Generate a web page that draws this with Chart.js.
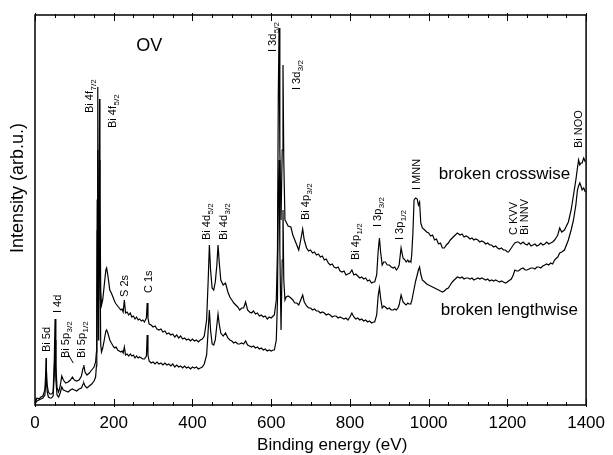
<!DOCTYPE html>
<html>
<head>
<meta charset="utf-8">
<script src="https://cdn.jsdelivr.net/npm/chart.js@4.4.1/dist/chart.umd.min.js"></script>
<style>
html,body{margin:0;padding:0;background:#fff}
#wrap{width:613px;height:455px}
</style>
</head>
<body>
<div id="wrap"><canvas id="chart" width="613" height="455"></canvas></div>
<script>
// binding energy (eV), shared by both spectra
const energy = [
	0,5,10,15,20,25,27,28,29,31,34,38,42,46,49,51,53,56,60,64,68,72,78,84,90,95,100,106,112,118,122,124,127,132,138,144,150,154,156,157,158,159,160,161,162,164,165,167,169,172,176,180,182,
	185,190,194,197,200,203,206,210,214,218,221,224,227,230,234,238,242,246,250,254,258,262,266,270,274,278,283,285,287,
	290,295,300,305,310,315,320,325,330,335,340,345,350,355,360,365,370,375,380,385,390,395,400,405,410,415,420,425,430,
	436,440,443,446,450,454,458,462,465,468,472,478,484,
	490,495,500,505,510,515,520,525,530,535,540,545,550,555,560,565,570,575,580,585,590,595,600,605,608,
	613,616,618,620,622,625,628,630,632,635,638,643,650,655,660,665,670,675,680,684,
	690,695,700,705,710,715,720,725,730,735,740,745,750,755,760,765,770,775,780,785,790,795,800,805,810,815,820,825,830,835,840,845,850,855,860,863,
	868,872,875,878,882,886,890,895,900,905,910,914,918,922,925,930,935,940,943,947,950,953,955,957,960,963,967,971,974,977,980,
	984,990,995,1000,1005,1010,1015,1020,1025,1030,1035,1040,1045,1050,1055,1060,1065,1073,1080,1085,1090,1095,1100,1105,1110,1115,1120,1125,1130,1135,1140,1145,1150,1155,1160,1165,1170,1175,1180,1185,1190,1195,1200,1203,1210,1215,1219,1224,1228,1234,1240,1245,1250,1255,1260,1265,1270,1275,1280,1285,1290,1295,1300,1305,1310,1315,1320,1325,1328,
	1333,1338,1345,1355,1362,1368,1374,1378,1381,1384,1387,1390,1394,1398
];
// intensity (arb.u.), upper spectrum
const crosswise = [
	2,7,6,8,9,15,30,47,35,20,13,11,11,13,45,86,40,17,13,19,29,25,22,23,25,28,25,24,25,29,37,40,33,30,32,35,38,43,53,85,205,318,205,105,155,306,205,115,100,105,120,135,137,
	130,115,112,109,106,103,101,99,97,95,96,93,105,92,93,90,92,88,89,86,88,85,86,84,85,83,87,102,87,
	81,80,78,79,76,75,76,73,74,71,72,70,71,68,70,67,69,66,67,65,66,64,66,64,65,63,65,66,69,
	85,125,160,135,117,115,123,140,160,143,125,120,122,
	113,108,105,102,100,98,95,97,97,103,95,93,92,94,91,92,89,90,88,89,86,88,87,89,90,
	105,155,305,377,255,185,255,340,245,185,183,179,178,170,165,160,155,165,176,165,
	157,154,155,152,153,150,151,148,149,145,146,142,140,141,138,137,138,134,133,134,130,131,132,135,130,131,129,127,128,126,127,124,125,122,123,123,
	130,155,167,153,140,143,143,140,140,138,137,138,135,137,140,157,147,145,143,145,143,144,143,150,172,205,207,206,200,203,182,
	177,175,173,172,169,170,165,166,161,162,157,157,160,162,165,167,169,172,170,171,168,169,168,166,167,165,166,165,163,164,163,161,162,160,160,158,159,157,156,157,155,155,153,153,157,160,162,163,163,161,163,161,160,162,159,160,161,159,160,162,160,161,163,161,162,163,165,168,170,
	177,173,175,183,195,210,225,237,245,240,242,242,247,243
];
// intensity (arb.u.), lower spectrum
const lengthwise = [
	1,4,5,6,7,10,20,33,25,13,8,7,7,9,30,65,25,10,8,12,18,15,14,13,15,16,15,14,16,17,21,22,19,17,19,21,24,28,39,65,175,255,145,65,105,245,145,60,53,57,65,74,75,
	72,65,62,60,58,57,58,55,54,53,54,52,58,50,51,49,51,49,50,47,49,47,48,47,46,46,49,70,50,
	44,42,43,41,43,41,42,40,42,40,41,39,41,38,40,38,39,37,39,37,38,36,38,37,38,36,37,38,41,
	50,75,95,75,61,60,65,80,91,81,72,69,72,
	67,65,64,62,63,61,61,62,61,64,60,59,58,59,57,58,56,57,55,56,54,55,54,55,55,
	65,105,205,245,155,75,145,195,125,105,108,109,107,105,102,102,100,105,110,103,
	99,97,97,95,96,94,94,92,93,92,90,91,90,88,89,89,87,88,87,86,87,85,88,92,88,86,87,85,86,84,85,83,84,82,83,83,
	90,110,117,107,97,99,98,96,97,95,95,96,95,97,100,110,103,101,100,102,101,101,102,104,110,116,124,130,135,138,131,
	125,123,121,120,119,118,117,116,115,114,113,114,116,117,120,123,125,128,127,128,126,127,127,126,127,125,126,127,126,127,126,125,126,124,125,124,125,124,123,124,123,122,123,124,126,130,135,134,134,136,137,135,135,136,137,137,136,138,138,137,139,140,141,140,142,141,145,147,148,
	152,153,155,165,175,185,200,215,219,222,219,215,217,213
];

const xTicks = [0,200,400,600,800,1000,1200,1400];

// peak labels: name, subscript, energy at text baseline, intensity at text start
const peakNames = ['Bi 5d','I 4d','Bi 5p','Bi 5p','S 2s','C 1s','Bi 4f','Bi 4f','Bi 4d','Bi 4d','I 3d','I 3d','Bi 4p','Bi 4p','I 3p','I 3p','I MNN','C KVV','Bi NNV','Bi NOO'];
const peakSubs = ['','','3/2','1/2','','','7/2','5/2','5/2','3/2','5/2','3/2','3/2','1/2','3/2','1/2','','','',''];
const peakEnergy = [38,67,87,128,236,298,147,207,444,487,612,672,697,822,878,935,978,1224,1253,1389];
const peakLevel = [53,92,47,47,108,112,292,277,165,165,353,315,185,145,178,165,215,170,170,257];

const curveNames = ['OV','broken crosswise','broken lengthwise'];
const curveNameEnergy = [257,1026,1031];
const curveNameLevel = [354,226,90];

const FONT = "'Liberation Sans', Arial, Helvetica, sans-serif";

const decor = {
	id: 'decor',
	afterDatasetsDraw(chart) {
		const ctx = chart.ctx;
		const a = chart.chartArea;
		const xs = chart.scales.x, ys = chart.scales.y;
		ctx.save();
		ctx.strokeStyle = '#000';
		ctx.fillStyle = '#000';
		// frame
		ctx.lineWidth = 1.5;
		ctx.strokeRect(a.left, a.top, a.right - a.left, a.bottom - a.top);
		// inward ticks, bottom and top
		ctx.lineWidth = 1;
		for (let v = 0; v <= 1400; v += 50) {
			const px = Math.round(xs.getPixelForValue(v)) + 0.5;
			const major = v % 200 === 0;
			const inn = major ? 6 : 3, out = major ? 2 : 1;
			ctx.beginPath();
			ctx.moveTo(px, a.bottom + out); ctx.lineTo(px, a.bottom - inn);
			ctx.moveTo(px, a.top - out); ctx.lineTo(px, a.top + inn);
			ctx.stroke();
		}
		// leader line of Bi 5p3/2
		ctx.beginPath();
		ctx.moveTo(xs.getPixelForValue(84), ys.getPixelForValue(51));
		ctx.lineTo(xs.getPixelForValue(97), ys.getPixelForValue(42));
		ctx.stroke();
		// peak labels, rotated
		for (let i = 0; i < peakNames.length; i++) {
			ctx.save();
			ctx.translate(xs.getPixelForValue(peakEnergy[i]), ys.getPixelForValue(peakLevel[i]));
			ctx.rotate(-Math.PI / 2);
			ctx.textAlign = 'left';
			ctx.textBaseline = 'alphabetic';
			ctx.font = '11px ' + FONT;
			ctx.fillText(peakNames[i], 0, 0);
			if (peakSubs[i]) {
				const w = ctx.measureText(peakNames[i]).width;
				ctx.font = '8px ' + FONT;
				ctx.fillText(peakSubs[i], w + 0.5, 3);
			}
			ctx.restore();
		}
		// curve names
		ctx.textAlign = 'left';
		ctx.textBaseline = 'alphabetic';
		for (let i = 0; i < curveNames.length; i++) {
			ctx.font = (i === 0 ? '18px ' : '17px ') + FONT;
			ctx.fillText(curveNames[i], xs.getPixelForValue(curveNameEnergy[i]), ys.getPixelForValue(curveNameLevel[i]));
		}
		// axis titles
		ctx.font = '17px ' + FONT;
		ctx.textAlign = 'center';
		ctx.fillText('Binding energy (eV)', xs.getPixelForValue(755), a.bottom + 45);
		ctx.save();
		ctx.translate(23, ys.getPixelForValue(217));
		ctx.rotate(-Math.PI / 2);
		ctx.font = '18px ' + FONT;
		ctx.fillText('Intensity (arb.u.)', 0, 0);
		ctx.restore();
		ctx.restore();
	}
};

const toPoints = (vals) => energy.map((e, i) => ({x: e, y: vals[i]}));

new Chart(document.getElementById('chart').getContext('2d'), {
	type: 'line',
	data: {
		datasets: [
			{label: 'broken crosswise', data: toPoints(crosswise), borderColor: '#000', borderWidth: 1.2, pointRadius: 0, tension: 0, fill: false},
			{label: 'broken lengthwise', data: toPoints(lengthwise), borderColor: '#000', borderWidth: 1.2, pointRadius: 0, tension: 0, fill: false}
		]
	},
	options: {
		responsive: false,
		devicePixelRatio: 1,
		animation: false,
		layout: {padding: {top: 15, right: 21, left: 0, bottom: 0}},
		plugins: {legend: {display: false}, tooltip: {enabled: false}},
		scales: {
			x: {
				type: 'linear', min: 0, max: 1400,
				afterBuildTicks: (s) => { s.ticks = xTicks.map(v => ({value: v})); },
				afterFit: (s) => { s.height = 50; },
				grid: {display: false, drawTicks: false},
				border: {display: false},
				ticks: {color: '#000', padding: 8, maxRotation: 0, autoSkip: false, font: {family: FONT, size: 17}, callback: (v) => String(v)}
			},
			y: {
				min: 0, max: 390,
				afterFit: (s) => { s.width = 35; },
				grid: {display: false, drawTicks: false},
				border: {display: false},
				ticks: {display: false}
			}
		}
	},
	plugins: [decor]
});
</script>
</body>
</html>
